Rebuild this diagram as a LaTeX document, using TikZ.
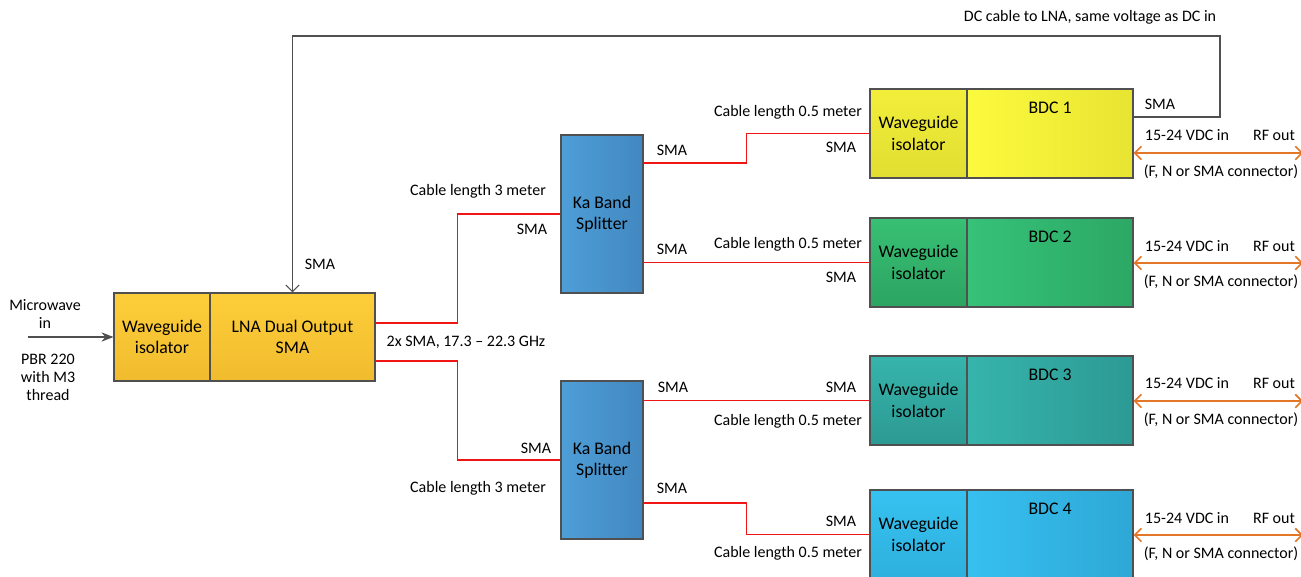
\documentclass[tikz,border=0pt]{standalone}
\usepackage{fontspec}
\setmainfont{Carlito}
\usetikzlibrary{arrows.meta}
\definecolor{lnaT}{RGB}{254,206,58}
\definecolor{lnaB}{RGB}{240,188,46}
\definecolor{b1T}{RGB}{242,238,58}
\definecolor{b1B}{RGB}{226,222,50}
\definecolor{b1L}{RGB}{252,250,62}
\definecolor{b1R}{RGB}{232,228,50}
\definecolor{b2T}{RGB}{56,192,116}
\definecolor{b2B}{RGB}{44,164,98}
\definecolor{b2L}{RGB}{54,194,120}
\definecolor{b2R}{RGB}{44,168,100}
\definecolor{b3T}{RGB}{54,180,172}
\definecolor{b3B}{RGB}{44,154,146}
\definecolor{b3L}{RGB}{54,180,172}
\definecolor{b3R}{RGB}{44,154,148}
\definecolor{b4T}{RGB}{54,194,240}
\definecolor{b4B}{RGB}{46,176,222}
\definecolor{b4L}{RGB}{54,192,240}
\definecolor{b4R}{RGB}{46,168,214}
\definecolor{spL}{RGB}{78,158,216}
\definecolor{spR}{RGB}{66,136,192}
\definecolor{edge}{RGB}{80,80,80}
\definecolor{cable}{RGB}{240,20,20}
\definecolor{rfline}{RGB}{228,118,40}
\tikzset{
  blk/.style={draw=edge, line width=0.8pt, inner sep=0pt, align=center,
    font=\fontsize{13.3}{16}\selectfont},
  lbl/.style={inner sep=0pt, align=center, font=\fontsize{12}{13.5}\selectfont},
  redc/.style={draw=cable, line width=1.2pt},
  dcc/.style={draw=edge, line width=0.9pt},
  rfc/.style={draw=rfline, line width=1.2pt, {Straight Barb[length=5pt,width=10pt]}-{Straight Barb[length=5pt,width=10pt]}},
}
\begin{document}
\begin{tikzpicture}[x=0.75pt,y=-0.75pt]
\useasboundingbox (0,0) rectangle (1301,576);
% LNA
\node[blk, top color=lnaT, bottom color=lnaB, minimum width=72pt, minimum height=66pt] (lnai) at (162,337) {Waveguide\\isolator};
\node[blk, top color=lnaT, bottom color=lnaB, minimum width=123.75pt, minimum height=66pt] (lnab) at (292.5,337) {LNA Dual Output\\SMA};
% splitters
\node[blk, left color=spL, right color=spR, minimum width=61.5pt, minimum height=118.5pt] (spl1) at (602,214) {Ka Band\\Splitter};
\node[blk, left color=spL, right color=spR, minimum width=61.5pt, minimum height=118.5pt] (spl2) at (602,460) {Ka Band\\Splitter};
% BDC rows
\node[blk, top color=b1T, bottom color=b1B, minimum width=72.75pt, minimum height=66.75pt] (iso1) at (918.5,133.5) {Waveguide\\isolator};
\node[blk, left color=b1L, right color=b1R, minimum width=124.5pt, minimum height=66.75pt, text depth=38pt] (bdc1) at (1050,133.5) {BDC 1};
\node[blk, top color=b2T, bottom color=b2B, minimum width=72.75pt, minimum height=66.75pt] (iso2) at (918.5,262.5) {Waveguide\\isolator};
\node[blk, left color=b2L, right color=b2R, minimum width=124.5pt, minimum height=66.75pt, text depth=38pt] (bdc2) at (1050,262.5) {BDC 2};
\node[blk, top color=b3T, bottom color=b3B, minimum width=72.75pt, minimum height=66.75pt] (iso3) at (918.5,400.5) {Waveguide\\isolator};
\node[blk, left color=b3L, right color=b3R, minimum width=124.5pt, minimum height=66.75pt, text depth=38pt] (bdc3) at (1050,400.5) {BDC 3};
\node[blk, top color=b4T, bottom color=b4B, minimum width=72.75pt, minimum height=66.75pt] (iso4) at (918.5,534.5) {Waveguide\\isolator};
\node[blk, left color=b4L, right color=b4R, minimum width=124.5pt, minimum height=66.75pt, text depth=38pt] (bdc4) at (1050,534.5) {BDC 4};
% input
\coordinate (mwin) at (28,337);
\draw[draw=edge, line width=1pt, -{Stealth[length=9pt,width=7pt]}] (mwin) -- (lnai.west);
\node[lbl] (tmw) at (45,314) {Microwave\\in};
\node[lbl] (tpbr) at (48,377) {PBR 220\\with M3\\thread};
% DC cable
\coordinate (dcr) at (1220,117);
\coordinate (dctop) at (1220,36);
\draw[dcc, -{Straight Barb[length=5pt,width=10pt]}] (bdc1.east |- dcr) -- (dcr) -- (dctop) -| (lnab.north);
\node[lbl] (tdc) at (1090,17) {DC cable to LNA, same voltage as DC in};
\node[lbl] (tsmadc) at (1160,104) {SMA};
\node[lbl] (tsmalna) at (320,264) {SMA};
% red cables LNA -> splitters
\draw[redc] ([yshift=10.5pt]lnab.east) -- ++(82,0) |- (spl1.west);
\draw[redc] ([yshift=-18pt]lnab.east) -- ++(82,0) |- (spl2.west);
\node[lbl] (t2x) at (466,342) {2x SMA, 17.3 -- 22.3 GHz};
\node[lbl] (tc3a) at (478,191) {Cable length 3 meter};
\node[lbl] (ts1a) at (532,229) {SMA};
\node[lbl] (ts2a) at (536,448) {SMA};
\node[lbl] (tc3b) at (478,488) {Cable length 3 meter};
% splitter 1 outputs
\draw[redc] ([yshift=38.25pt]spl1.east) -- ++(103,0) |- (iso1.west);
\draw[redc] (spl1.east |- iso2.west) -- (iso2.west);
\node[lbl] at (672,150) {SMA};
\node[lbl] at (788,112) {Cable length 0.5 meter};
\node[lbl] at (841,147) {SMA};
\node[lbl] at (672,249) {SMA};
\node[lbl] at (788,244) {Cable length 0.5 meter};
\node[lbl] at (841,277) {SMA};
% splitter 2 outputs
\draw[redc] (spl2.east |- iso3.west) -- (iso3.west);
\draw[redc] ([yshift=-32.25pt]spl2.east) -- ++(103,0) |- (iso4.west);
\node[lbl] at (673,387) {SMA};
\node[lbl] at (841,387) {SMA};
\node[lbl] at (788,421) {Cable length 0.5 meter};
\node[lbl] at (672,488) {SMA};
\node[lbl] at (841,521) {SMA};
\node[lbl] at (788,553) {Cable length 0.5 meter};
% RF outputs
\coordinate (rf1) at (1303,153);
\coordinate (rf2) at (1303,263);
\coordinate (rf3) at (1303,401);
\coordinate (rf4) at (1303,535);
\draw[rfc] (bdc1.east |- rf1) -- (rf1);
\draw[rfc] (bdc2.east |- rf2) -- (rf2);
\draw[rfc] (bdc3.east |- rf3) -- (rf3);
\draw[rfc] (bdc4.east |- rf4) -- (rf4);
\foreach \y/\n in {135/1,246/2,383/3,518/4}{
  \node[lbl] (vdc\n) at (1187,\y) {15-24 VDC in};
  \node[lbl] (rfo\n) at (1274,\y) {RF out};
}
\foreach \y/\n in {172/1,282/2,420/3,554/4}{
  \node[lbl] (con\n) at (1221,\y) {(F, N or SMA connector)};
}
\end{tikzpicture}
\end{document}
